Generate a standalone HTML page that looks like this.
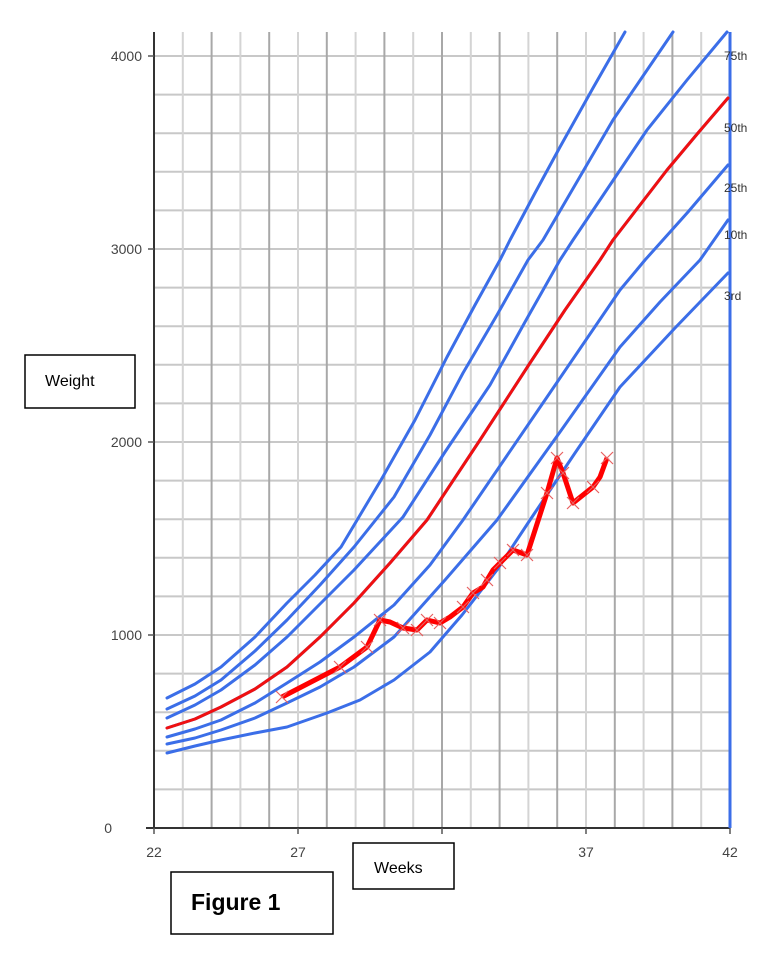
<!DOCTYPE html>
<html><head><meta charset="utf-8"><style>
html,body{margin:0;padding:0;background:#fff;}
svg{display:block;font-family:"Liberation Sans",sans-serif;}
</style></head><body>
<svg width="772" height="976" viewBox="0 0 772 976" xmlns="http://www.w3.org/2000/svg">
<rect width="772" height="976" fill="#fff"/>
<g stroke-width="2">
<g stroke="#c8c8c8">
<line x1="154" y1="789.4" x2="730" y2="789.4"/><line x1="154" y1="750.8" x2="730" y2="750.8"/>
<line x1="154" y1="712.2" x2="730" y2="712.2"/><line x1="154" y1="673.6" x2="730" y2="673.6"/>
<line x1="154" y1="635" x2="730" y2="635"/><line x1="154" y1="596.4" x2="730" y2="596.4"/>
<line x1="154" y1="557.8" x2="730" y2="557.8"/><line x1="154" y1="519.2" x2="730" y2="519.2"/>
<line x1="154" y1="480.6" x2="730" y2="480.6"/><line x1="154" y1="442" x2="730" y2="442"/>
<line x1="154" y1="403.4" x2="730" y2="403.4"/><line x1="154" y1="364.8" x2="730" y2="364.8"/>
<line x1="154" y1="326.2" x2="730" y2="326.2"/><line x1="154" y1="287.6" x2="730" y2="287.6"/>
<line x1="154" y1="249" x2="730" y2="249"/><line x1="154" y1="210.4" x2="730" y2="210.4"/>
<line x1="154" y1="171.8" x2="730" y2="171.8"/><line x1="154" y1="133.2" x2="730" y2="133.2"/>
<line x1="154" y1="94.6" x2="730" y2="94.6"/><line x1="154" y1="56" x2="730" y2="56"/>
</g>
<g stroke="#d4d4d4">
<line x1="182.8" y1="32" x2="182.8" y2="828"/><line x1="240.4" y1="32" x2="240.4" y2="828"/>
<line x1="298" y1="32" x2="298" y2="828"/><line x1="355.6" y1="32" x2="355.6" y2="828"/>
<line x1="413.2" y1="32" x2="413.2" y2="828"/><line x1="470.8" y1="32" x2="470.8" y2="828"/>
<line x1="528.4" y1="32" x2="528.4" y2="828"/><line x1="586" y1="32" x2="586" y2="828"/>
<line x1="643.6" y1="32" x2="643.6" y2="828"/><line x1="701.2" y1="32" x2="701.2" y2="828"/>
</g>
<g stroke="#a8a8a8">
<line x1="211.6" y1="32" x2="211.6" y2="828"/><line x1="269.2" y1="32" x2="269.2" y2="828"/>
<line x1="326.8" y1="32" x2="326.8" y2="828"/><line x1="384.4" y1="32" x2="384.4" y2="828"/>
<line x1="442" y1="32" x2="442" y2="828"/><line x1="499.6" y1="32" x2="499.6" y2="828"/>
<line x1="557.2" y1="32" x2="557.2" y2="828"/><line x1="614.8" y1="32" x2="614.8" y2="828"/>
<line x1="672.4" y1="32" x2="672.4" y2="828"/>
</g>
</g>
<line x1="154" y1="32" x2="154" y2="829" stroke="#333" stroke-width="2"/>
<line x1="146" y1="828" x2="730" y2="828" stroke="#333" stroke-width="2"/>
<g stroke="#555" stroke-width="1.5">
<line x1="148" y1="56" x2="154" y2="56"/><line x1="148" y1="249" x2="154" y2="249"/>
<line x1="148" y1="442" x2="154" y2="442"/><line x1="148" y1="635" x2="154" y2="635"/>
<line x1="154" y1="828" x2="154" y2="834"/><line x1="298" y1="828" x2="298" y2="834"/>
<line x1="442" y1="828" x2="442" y2="834"/><line x1="586" y1="828" x2="586" y2="834"/>
<line x1="730" y1="828" x2="730" y2="834"/>
</g>
<line x1="730" y1="32" x2="730" y2="828" stroke="#3b6ee8" stroke-width="3"/>
<g fill="none" stroke="#3b6ee8" stroke-width="3" stroke-linejoin="round" stroke-linecap="round">
<polyline points="167,698 195,684 221,667 255,637 287,603 315,575 341,547 381,480 415,420 447,357 475,305 500,260 510,240 535,193 560,147 593,88 625,32"/>
<polyline points="167,709 195,696 221,680 255,651 287,620 320,585 354,547 394,497 430,435 463,373 497,315 528,260 543,240 578,180 613,120 643,76 673,32"/>
<polyline points="167,718 195,705 221,690 255,665 287,637 320,604 354,570 403,517 445,452 490,385 525,322 560,260 573,240 610,185 647,130 687,80 727,32"/>
<polyline points="167,728 195,719 221,707 255,689 287,667 320,637 354,603 390,563 427,520 480,440 530,363 565,310 600,260 613,240 640,205 667,170 698,133 728,98"/>
<polyline points="167,737 195,729 221,720 255,703 287,683 320,662 354,637 394,605 430,565 463,520 545,400 620,290 645,260 688,212 728,165"/>
<polyline points="167,744 195,738 221,730 255,718 287,703 320,687 354,667 394,637 445,580 497,520 560,432 620,347 660,302 700,260 728,220"/>
<polyline points="167,753 195,746 221,740 255,733 287,727 327,713 360,700 394,680 430,652 462,615 497,570 530,520 575,453 620,387 675,328 728,273"/>
</g>
<polyline fill="none" stroke="#f01010" stroke-width="3" stroke-linejoin="round" stroke-linecap="round" points="167,728 195,719 221,707 255,689 287,667 320,637 354,603 390,563 427,520 480,440 530,363 565,310 600,260 613,240 640,205 667,170 698,133 728,98"/>
<polyline fill="none" stroke="#f00" stroke-width="5" stroke-linejoin="round" points="282,697 340,667 367,647 380,620 390,622 403,628 417,630 427,620 440,623 450,617 463,607 473,593 483,587 487,580 493,570 500,563 513,550 527,555 547,493 557,458 563,473 573,503 593,487 600,477 607,458"/>
<g stroke="#e86060" stroke-width="1.2">
<path d="M276 691l12 12M288 691l-12 12M334 661l12 12M346 661l-12 12M361 641l12 12M373 641l-12 12M374 614l12 12M386 614l-12 12M397 622l12 12M409 622l-12 12M411 624l12 12M423 624l-12 12M421 614l12 12M433 614l-12 12M434 617l12 12M446 617l-12 12M457 601l12 12M469 601l-12 12M467 587l12 12M479 587l-12 12M481 574l12 12M493 574l-12 12M494 557l12 12M506 557l-12 12M507 544l12 12M519 544l-12 12M521 549l12 12M533 549l-12 12M541 487l12 12M553 487l-12 12M551 452l12 12M563 452l-12 12M557 467l12 12M569 467l-12 12M567 497l12 12M579 497l-12 12M587 481l12 12M599 481l-12 12M601 452l12 12M613 452l-12 12"/>
</g>
<g fill="#444" font-size="14" text-anchor="end">
<text x="142" y="61">4000</text><text x="142" y="254">3000</text>
<text x="142" y="447">2000</text><text x="142" y="640">1000</text><text x="112" y="833">0</text>
</g>
<g fill="#444" font-size="14" text-anchor="middle">
<text x="154" y="857">22</text><text x="298" y="857">27</text>
<text x="586" y="857">37</text><text x="730" y="857">42</text>
</g>
<g fill="#333" font-size="12">
<text x="724" y="60">75th</text><text x="724" y="132">50th</text>
<text x="724" y="192">25th</text><text x="724" y="239">10th</text>
<text x="724" y="300">3rd</text>
</g>
<rect x="25" y="355" width="110" height="53" fill="#fff" stroke="#000" stroke-width="1.5"/>
<text x="45" y="386" font-size="16" fill="#000">Weight</text>
<rect x="353" y="843" width="101" height="46" fill="#fff" stroke="#000" stroke-width="1.5"/>
<text x="374" y="873" font-size="16" fill="#000">Weeks</text>
<rect x="171" y="872" width="162" height="62" fill="#fff" stroke="#000" stroke-width="1.5"/>
<text x="191" y="910" font-size="23" font-weight="bold" fill="#000">Figure 1</text>
</svg>
</body></html>
